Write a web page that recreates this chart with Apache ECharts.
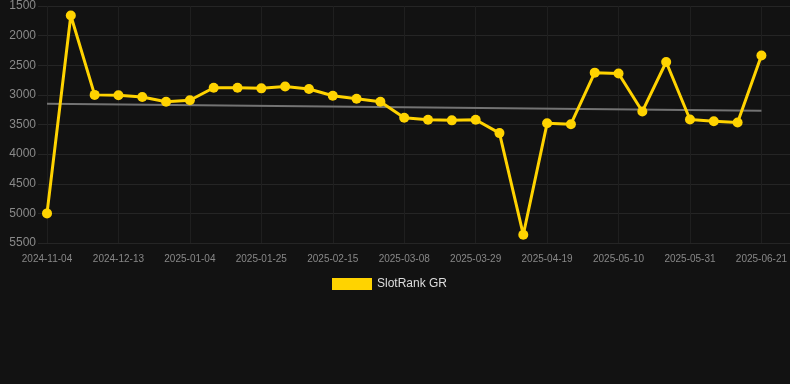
<!DOCTYPE html>
<html>
<head>
<meta charset="utf-8">
<script src="https://cdn.jsdelivr.net/npm/echarts@6/dist/echarts.min.js"></script>
<style>
  html, body { margin: 0; padding: 0; background: #121212; }
  #main { width: 790px; height: 384px; }
</style>
</head>
<body>
<div id="main"></div>
<script>
  var dates = ['2024-11-04', '2024-11-17', '2024-11-30', '2024-12-13', '2024-12-20', '2024-12-27',
    '2025-01-04', '2025-01-11', '2025-01-18', '2025-01-25', '2025-02-01', '2025-02-08',
    '2025-02-15', '2025-02-22', '2025-03-01', '2025-03-08', '2025-03-15', '2025-03-22',
    '2025-03-29', '2025-04-05', '2025-04-12', '2025-04-19', '2025-04-26', '2025-05-03',
    '2025-05-10', '2025-05-17', '2025-05-24', '2025-05-31', '2025-06-07', '2025-06-14', '2025-06-21'];
  var rank = [5000, 1660, 3000, 3005, 3035, 3115, 3090, 2880, 2880, 2890, 2860, 2900,
    3015, 3065, 3115, 3385, 3420, 3430, 3420, 3645, 5360, 3480, 3495, 2625, 2640,
    3280, 2445, 3415, 3445, 3465, 2335];
  // 趋势线两端
  var trendStart = 3150;
  var trendEnd = 3270;
  var yTicks = [1500, 5500, 500];

  var trend = dates.map(function (d, i) {
    if (i === 0) return trendStart;
    if (i === dates.length - 1) return trendEnd;
    return null;
  });

  var myChart = echarts.init(document.getElementById('main'));
  var option = {
    backgroundColor: '#121212',
    animation: false,
    grid: [
      // 数据区
      { left: 47, right: 28, top: 6, bottom: 141 },
      // 横向网格线铺满右侧
      { left: 38, right: 0, top: 6, bottom: 141 }
    ],
    legend: {
      data: ['SlotRank GR'],
      top: 273,
      left: 327,
      itemWidth: 40,
      itemHeight: 12,
      itemGap: 6,
      icon: 'rect',
      textStyle: { color: '#dddddd', fontSize: 12 }
    },
    xAxis: [
      {
        type: 'category',
        gridIndex: 0,
        data: dates,
        boundaryGap: false,
        axisLine: { show: false },
        axisTick: { show: false },
        axisLabel: { color: '#888888', fontSize: 10, interval: 2, margin: 11 },
        splitLine: { show: true, interval: 2, lineStyle: { color: '#1f1f1f' } }
      },
      {
        type: 'value',
        gridIndex: 1,
        show: false
      }
    ],
    yAxis: [
      {
        type: 'value',
        gridIndex: 0,
        inverse: true,
        min: yTicks[0],
        max: yTicks[1],
        interval: yTicks[2],
        axisLine: { show: false },
        axisTick: { show: false },
        axisLabel: { show: false },
        splitLine: { show: false }
      },
      {
        type: 'value',
        gridIndex: 1,
        inverse: true,
        min: yTicks[0],
        max: yTicks[1],
        interval: yTicks[2],
        axisLine: { show: false },
        axisTick: { show: false },
        axisLabel: {
          color: '#8a8a8a',
          fontSize: 12,
          margin: 2,
          formatter: function (v) { return String(v); }
        },
        splitLine: { lineStyle: { color: '#252525' } }
      }
    ],
    series: [
      {
        name: 'trend',
        type: 'line',
        data: trend,
        connectNulls: true,
        symbol: 'none',
        lineStyle: { color: '#737373', width: 2 },
        z: 1
      },
      {
        name: 'SlotRank GR',
        type: 'line',
        data: rank,
        symbol: 'circle',
        symbolSize: 10,
        itemStyle: { color: '#ffd300' },
        lineStyle: { color: '#ffd300', width: 3 },
        z: 3
      }
    ]
  };
  myChart.setOption(option);
</script>
</body>
</html>
